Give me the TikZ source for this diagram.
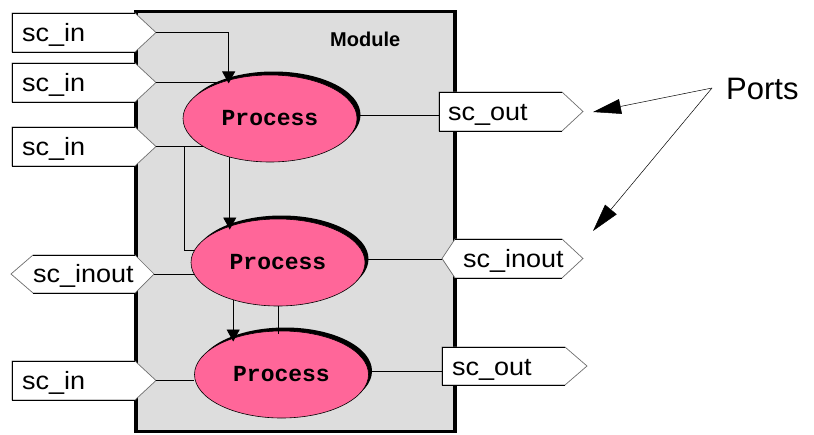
\documentclass[tikz,border=0pt]{standalone}
\usepackage{fontspec}
\setmainfont{Liberation Sans}
\newfontfamily\portfont[FakeStretch=1.08]{Liberation Sans}
\newfontfamily\procfont{Liberation Mono}
\usetikzlibrary{shapes.geometric,shadows,arrows.meta}
\definecolor{modgray}{RGB}{221,221,221}
\definecolor{procpink}{RGB}{255,102,153}
\definecolor{portgray}{RGB}{110,110,110}
\tikzset{
  port/.style={fill=white, draw=portgray, line width=0.7pt},
  portedge/.style={draw=black, line width=0.8pt},
  lbl/.style={anchor=base west, inner sep=0pt, font=\portfont\fontsize{25}{30}\selectfont},
  proc/.style={ellipse, draw, fill=procpink, line width=0.6pt,
    minimum width=174pt, minimum height=87pt, inner sep=0pt,
    font=\procfont\bfseries\fontsize{23}{28}\selectfont,
    drop shadow={shadow xshift=3.5pt, shadow yshift=3.5pt, fill=black, opacity=1}},
  wire/.style={line width=0.9pt},
  flow/.style={wire, -{Triangle[length=12pt,width=13pt]}, shorten >=-3.5pt}
}
\begin{document}
\begin{tikzpicture}[x=1pt, y=-1pt]
  \useasboundingbox (0,0) rectangle (814,434);
  % module
  \draw[line width=3.3pt, fill=modgray] (136,11.5) rectangle (455,431.5);
  \node[anchor=base west, inner sep=0pt, font=\bfseries\fontsize{20}{24}\selectfont] (module) at (330,46) {Module};

  % input ports on the left
  \foreach \n/\m in {in1/32.5, in2/82.5, in3/146.5, in4/380.5} {
    \filldraw[port] (12,\m-19.5) -- (135,\m-19.5) -- (156,\m) -- (135,\m+19.5) -- (12,\m+19.5) -- cycle;
    \draw[portedge] (135,\m-19.5) -- (12,\m-19.5) -- (12,\m+19.5) -- (135,\m+19.5);
    \node[lbl] (\n) at (22,\m+9) {sc\_in};
    \coordinate (\n-tip) at (156,\m);
  }
  % inout port on the left
  \filldraw[port] (11,274) -- (33,255) -- (135,255) -- (154,274) -- (135,293) -- (33,293) -- cycle;
  \draw[portedge] (33,255) -- (135,255) (33,293) -- (135,293);
  \node[lbl] (io1) at (33,282.5) {sc\_inout};
  \coordinate (io1-tip) at (154,274);

  % ports on the right
  \filldraw[port] (439,92) -- (562,92) -- (583,111.5) -- (562,131) -- (439,131) -- cycle;
  \draw[portedge] (562,92) -- (439,92) -- (439,131) -- (562,131);
  \node[lbl] (out1) at (448,120.5) {sc\_out};
  \coordinate (out1-w) at (439,111.5);

  \filldraw[port] (442,258.5) -- (455,239) -- (562,239) -- (583,258.5) -- (562,278) -- (455,278) -- cycle;
  \draw[portedge] (455,239) -- (562,239) (455,278) -- (562,278);
  \node[lbl] (io2) at (463,267.5) {sc\_inout};
  \coordinate (io2-tip) at (442,258.5);

  \filldraw[port] (442,347) -- (565,347) -- (587,366) -- (565,385) -- (442,385) -- cycle;
  \draw[portedge] (565,347) -- (442,347) -- (442,385) -- (565,385);
  \node[lbl] (out2) at (452,375) {sc\_out};
  \coordinate (out2-w) at (442,366);

  % processes
  \node[proc] (p1) at (270,118.5) {Process};
  \node[proc] (p2) at (278,262.5) {Process};
  \node[proc] (p3) at (281.5,374.5) {Process};

  % wires
  \draw[flow] (in1-tip) -| (p1.137);
  \draw[wire] (in2-tip) -- (in2-tip -| p1.144);
  \draw[wire] (in3-tip) -- (in3-tip -| p1.203);
  \coordinate (split) at (184,146.5);
  \draw[wire] (split) |- (p2.172);
  \draw[flow] (p1.224) -- (p1.224 |- p2.143);
  \draw[wire] (p1.2) -- (p1.2 -| out1-w);
  \draw[wire] (io1-tip) -- (io1-tip -| p2.188);
  \draw[wire] (p2.2) -- (p2.2 -| io2-tip);
  \draw[flow] (p2.220) -- (p2.220 |- p3.143);
  \draw[wire, shorten >=-3.5pt] (p2.south) -- (p2.south |- p3.north);
  \draw[wire] (in4-tip) -- (in4-tip -| p3.west);
  \draw[wire] (p3.2) -- (p3.2 -| out2-w);

  % ports label
  \node[anchor=base west, inner sep=0pt, font=\fontsize{31}{36}\selectfont] (ports) at (726,99) {Ports};
  \coordinate (pfrom) at (712,88);
  \coordinate (pto1) at (593,112);
  \coordinate (pto2) at (593,231);
  \draw[line width=0.5pt, -{Triangle[length=28pt,width=15pt]}] (pfrom) -- (pto1);
  \draw[line width=0.5pt, -{Triangle[length=28pt,width=15pt]}] (pfrom) -- (pto2);
\end{tikzpicture}
\end{document}
